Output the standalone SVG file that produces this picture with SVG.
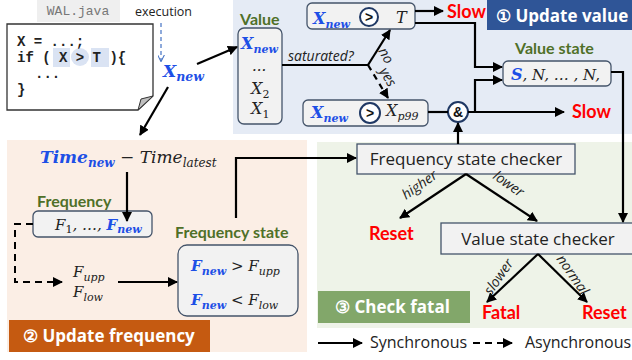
<svg xmlns="http://www.w3.org/2000/svg" width="632" height="360" viewBox="0 0 632 360">
<defs>
<marker id="ah" viewBox="0 0 10 10" refX="9" refY="5" markerWidth="10" markerHeight="10" markerUnits="userSpaceOnUse" orient="auto"><path d="M0,0 L10,5 L0,10 Z" fill="#000"/></marker>
<marker id="ahb" viewBox="0 0 10 10" refX="9" refY="5" markerWidth="7" markerHeight="7" markerUnits="userSpaceOnUse" orient="auto"><path d="M0,0 L10,5 L0,10" fill="none" stroke="#4472c4" stroke-width="1.5"/></marker>
<style>
.math{font-family:"DejaVu Serif","Liberation Serif",serif;font-style:italic;fill:#222}
.mb{font-weight:bold;fill:#1d4fe6}
.lbl{font-family:Lato,"Open Sans",sans-serif;font-weight:bold;fill:#4f7028;font-size:16px}
.red{font-family:Lato,"Open Sans",sans-serif;font-weight:bold;fill:#ff0000;font-size:18px}
.plain{font-family:"Open Sans","Liberation Sans",sans-serif;font-size:17px;fill:#222}
.leg{font-family:"Open Sans","Liberation Sans",sans-serif;font-size:16px;fill:#222}
.it{font-family:"Open Sans","Liberation Sans",sans-serif;font-style:italic;font-size:14px;fill:#222}
.title{font-family:"Open Sans","Noto Sans",sans-serif;font-weight:bold;font-size:17px;fill:#fff}
.edge{stroke:#000;stroke-width:2.2;fill:none}
.dash{stroke:#000;stroke-width:2;fill:none;stroke-dasharray:7 5}
.box{fill:#f2f2f2;stroke:#44546a;stroke-width:1.3}
.code{font-family:"Liberation Mono",monospace;font-weight:bold;font-size:14px;fill:#222}
.op{fill:#fff;stroke:#1f3864;stroke-width:2}
</style>
</defs>

<!-- regions -->
<rect x="233" y="0" width="399" height="134" fill="#e5ebf5"/>
<rect x="7" y="140" width="300" height="212" fill="#fbeee5"/>
<rect x="317" y="142" width="315" height="186" fill="#eef3e8"/>
<g id="title-value"><rect x="487" y="0" width="145" height="30" fill="#2f5597"/><text class="title" x="496" y="22">① Update value</text></g>
<g id="title-frequency"><rect x="9" y="320" width="201" height="32" fill="#c55a11"/><text class="title" x="23" y="342">② Update frequency</text></g>
<g id="title-fatal"><rect x="318" y="291" width="152" height="32" fill="#82a76a"/><text class="title" x="335" y="313">③ Check fatal</text></g>

<!-- code file -->
<g id="code">
<rect x="37" y="0" width="83" height="22" fill="#efefef"/>
<text x="78" y="15" text-anchor="middle" font-family="Liberation Mono,monospace" font-size="13" fill="#777">WAL.java</text>
<path d="M7,24 H153 V96 L138,110 H7 Z" fill="#fff" stroke="#333" stroke-width="1.3"/>
<path d="M153,96 L141,99 L138,110 Z" fill="#bfbfbf" stroke="#333" stroke-width="1"/>
<rect x="53" y="48" width="17" height="19" fill="#dae3f3"/>
<circle cx="80" cy="57" r="9" fill="#dae3f3"/>
<rect x="91" y="48" width="18" height="19" fill="#dae3f3"/>
<text class="code" x="17" y="46">X = ...;</text>
<text class="code" x="17" y="62" xml:space="preserve">if ( X &gt; T ){</text>
<text class="code" x="35" y="78">...</text>
<text class="code" x="17" y="94">}</text>
</g>
<g id="execution">
<text x="135" y="16" font-family="Open Sans,sans-serif" font-size="12.5" fill="#222">execution</text>
<line x1="161" y1="23" x2="161" y2="61" stroke="#4472c4" stroke-width="1.2" stroke-dasharray="4 3" marker-end="url(#ahb)"/>
</g>
<g id="xnew"><text class="math mb" x="163" y="77" font-size="17">X<tspan dy="4" font-size="12.5">new</tspan></text></g>

<!-- Value -->
<g id="value">
<text class="lbl" x="240" y="25">Value</text>
<rect class="box" x="238" y="28" width="44" height="96" rx="6"/>
<text class="math mb" x="241" y="49" font-size="16">X<tspan dy="4" font-size="11">new</tspan></text>
<text class="math" x="252" y="71" font-size="15" font-style="normal">...</text>
<text class="math" x="251" y="94" font-size="16">X<tspan dy="4" font-size="11" font-style="normal">2</tspan></text>
<text class="math" x="251" y="114" font-size="16">X<tspan dy="4" font-size="11" font-style="normal">1</tspan></text>
</g>
<g id="cmp-t">
<rect class="box" x="307" y="3" width="108" height="26" rx="5"/>
<text class="math mb" x="313" y="24" font-size="16">X<tspan dy="4" font-size="11">new</tspan></text>
<circle class="op" cx="369" cy="17" r="9"/>
<text x="369" y="22" text-anchor="middle" font-family="Liberation Sans,sans-serif" font-weight="bold" font-size="14" fill="#111">&gt;</text>
<text class="math" x="396" y="23" font-size="16">T</text>
</g>
<g id="cmp-p99">
<rect class="box" x="303" y="100" width="125" height="26" rx="5"/>
<text class="math mb" x="311" y="118" font-size="16">X<tspan dy="4" font-size="11">new</tspan></text>
<circle class="op" cx="370" cy="113" r="10"/>
<text x="370" y="118" text-anchor="middle" font-family="Liberation Sans,sans-serif" font-weight="bold" font-size="14" fill="#111">&gt;</text>
<text class="math" x="386" y="116" font-size="16">X<tspan dy="4" font-size="11">p99</tspan></text>
</g>
<g id="and"><circle class="op" cx="458" cy="112" r="10"/><text x="458" y="117" text-anchor="middle" font-family="Liberation Sans,sans-serif" font-weight="bold" font-size="14" fill="#111">&amp;</text></g>
<g id="slow-top"><text class="red" x="447" y="18" font-size="17">Slow</text></g>
<g id="slow-bottom"><text class="red" x="572" y="118" font-size="17">Slow</text></g>
<g id="value-state">
<text class="lbl" x="515" y="54">Value state</text>
<rect class="box" x="503" y="61" width="108" height="25" rx="5"/>
<text class="math" x="511" y="80" font-size="15"><tspan class="mb" font-size="16">S</tspan>, N, … , N,</text>
</g>

<!-- Check fatal -->
<g id="freq-checker"><rect class="box" x="357" y="144" width="218" height="30"/><text class="plain" x="466" y="165" text-anchor="middle">Frequency state checker</text></g>
<g id="value-checker"><rect class="box" x="441" y="223" width="196" height="31"/><text class="plain" x="538" y="245" text-anchor="middle">Value state checker</text></g>
<g id="reset1"><text class="red" x="369" y="240">Reset</text></g>
<g id="fatal"><text class="red" x="482" y="319">Fatal</text></g>
<g id="reset2"><text class="red" x="582" y="319">Reset</text></g>

<!-- Update frequency -->
<g id="time">
<text class="math" x="40" y="163" font-size="17"><tspan class="mb">Time</tspan><tspan class="mb" dy="4" font-size="12">new</tspan><tspan dy="-4" font-style="normal"> − </tspan>Time<tspan dy="4" font-size="12">latest</tspan></text>
</g>
<g id="frequency">
<text class="lbl" x="37" y="207">Frequency</text>
<rect class="box" x="33" y="211" width="119" height="26" rx="5"/>
<text class="math" x="55" y="230" font-size="15">F<tspan dy="3" font-size="11" font-style="normal">1</tspan><tspan dy="-3">, …, </tspan><tspan class="mb">F</tspan><tspan class="mb" dy="3" font-size="11">new</tspan></text>
</g>
<g id="bounds">
<text class="math" x="73" y="277" font-size="15">F<tspan dy="4" font-size="11">upp</tspan></text>
<text class="math" x="73" y="297" font-size="15">F<tspan dy="4" font-size="11">low</tspan></text>
</g>
<g id="frequency-state">
<text class="lbl" x="175" y="238">Frequency state</text>
<rect class="box" x="178" y="245" width="120" height="71" rx="9"/>
<text class="math" x="191" y="271" font-size="15"><tspan class="mb">F</tspan><tspan class="mb" dy="4" font-size="11">new</tspan><tspan dy="-4" font-style="normal"> &gt; </tspan>F<tspan dy="4" font-size="11">upp</tspan></text>
<text class="math" x="191" y="305" font-size="15"><tspan class="mb">F</tspan><tspan class="mb" dy="4" font-size="11">new</tspan><tspan dy="-4" font-style="normal"> &lt; </tspan>F<tspan dy="4" font-size="11">low</tspan></text>
</g>

<!-- connectors -->
<g id="connectors">
<line class="edge" x1="197" y1="64" x2="237" y2="47" marker-end="url(#ah)"/>
<line class="edge" x1="168" y1="87" x2="140" y2="135" marker-end="url(#ah)"/>
<polyline class="edge" points="282,65 368,65"/>
<line class="edge" x1="368" y1="65" x2="390" y2="30" marker-end="url(#ah)"/>
<line class="edge" x1="368" y1="65" x2="388" y2="98" stroke-dasharray="6 5" marker-end="url(#ah)"/>
<text class="it" transform="translate(378,51) rotate(60)">no</text>
<text class="it" transform="translate(379,71) rotate(60)">yes</text>
<text class="it" x="288" y="61">saturated?</text>
<line class="edge" x1="415" y1="11" x2="443" y2="11" marker-end="url(#ah)"/>
<polyline class="edge" points="415,23 475,23 475,67 502,67" marker-end="url(#ah)"/>
<line class="edge" x1="428" y1="112" x2="448" y2="112"/>
<line class="edge" x1="468" y1="112" x2="564" y2="112" marker-end="url(#ah)"/>
<polyline class="edge" points="475,112 475,80 502,80" marker-end="url(#ah)"/>
<polyline class="edge" points="611,72 623,72 623,222" marker-end="url(#ah)"/>
<line class="edge" x1="458" y1="144" x2="458" y2="123" marker-end="url(#ah)"/>
<polyline class="edge" points="236,218 236,158 356,158" marker-end="url(#ah)"/>
<line class="edge" x1="466" y1="174" x2="400" y2="218" marker-end="url(#ah)"/>
<line class="edge" x1="466" y1="174" x2="537" y2="221" marker-end="url(#ah)"/>
<text class="it" transform="translate(406,200) rotate(-35)">higher</text>
<text class="it" transform="translate(492,178) rotate(35)">lower</text>
<line class="edge" x1="538" y1="254" x2="487" y2="302" marker-end="url(#ah)"/>
<line class="edge" x1="538" y1="254" x2="587" y2="302" marker-end="url(#ah)"/>
<text class="it" transform="translate(491,296) rotate(-55)">slower</text>
<text class="it" transform="translate(556,259) rotate(55)">normal</text>
<line class="edge" x1="127" y1="172" x2="127" y2="221" marker-end="url(#ah)"/>
<polyline class="dash" points="33,224 15,224 15,282 62,282" marker-end="url(#ah)"/>
<line class="edge" x1="118" y1="282" x2="177" y2="282" marker-end="url(#ah)"/>
<line class="edge" x1="318" y1="343" x2="362" y2="343" marker-end="url(#ah)"/>
<text class="leg" x="370" y="348">Synchronous</text>
<line class="dash" x1="473" y1="343" x2="512" y2="343" stroke-dasharray="8 5" marker-end="url(#ah)"/>
<text class="leg" x="525" y="348">Asynchronous</text>
</g>
</svg>
